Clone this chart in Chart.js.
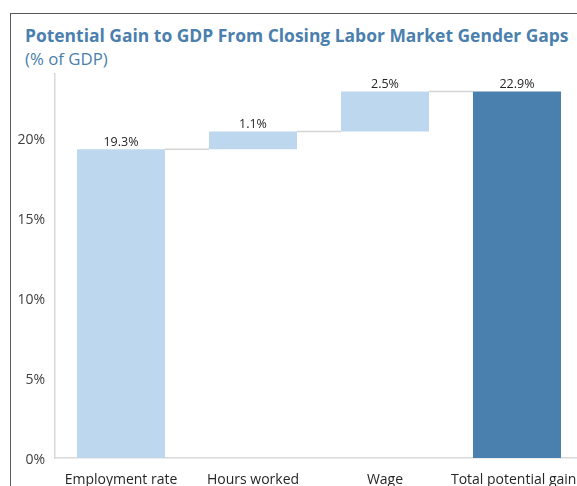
<!DOCTYPE html>
<html>
<head>
<meta charset="utf-8">
<script src="https://cdn.jsdelivr.net/npm/chart.js@4.4.1/dist/chart.umd.min.js"></script>
<style>
  html, body { margin: 0; padding: 0; background: #fff; overflow: hidden; width: 577px; height: 486px; }
  #page { position: relative; width: 577px; height: 486px; overflow: hidden; }
  #frame { position: absolute; left: 10px; top: 13px; width: 600px; height: 520px; border-left: 1.5px solid #595959; border-top: 1.5px solid #595959; }
  #title { position: absolute; left: 25px; top: 23px; font-family: "Open Sans", sans-serif; font-weight: 700; font-size: 17.45px; color: #4a7fae; white-space: nowrap; }
  #subtitle { position: absolute; left: 25px; top: 47px; font-family: "Open Sans", sans-serif; font-size: 16.8px; color: #4a7fae; white-space: nowrap; }
  #wrap { position: absolute; left: 0; top: 0; width: 600px; height: 486px; }
</style>
</head>
<body>
<div id="page">
<div id="frame"></div>
<div id="title">Potential Gain to GDP From Closing Labor Market Gender Gaps</div>
<div id="subtitle">(% of GDP)</div>
<div id="wrap"><canvas id="c" width="600" height="486"></canvas></div>
</div>
<script>
const categories = ['Employment rate', 'Hours worked', 'Wage', 'Total potential gains'];
const values = [19.3, 1.1, 2.5, 22.9];
const isTotal = [false, false, false, true];
const yTicks = [0, 5, 10, 15, 20];

const LIGHT = '#bdd7ee';
const DARK = '#4a80ae';

// floating ranges built from the values
let running = 0;
const ranges = values.map((v, i) => {
  if (isTotal[i]) { running = v; return [0, v]; }
  const r = [running, running + v];
  running += v;
  return r;
});

const connectorPlugin = {
  id: 'connectors',
  afterDatasetsDraw(chart) {
    const ctx = chart.ctx;
    const meta = chart.getDatasetMeta(0);
    const y = chart.scales.y;
    ctx.save();
    ctx.strokeStyle = '#d4d4d4';
    ctx.lineWidth = 1.5;
    for (let i = 0; i < meta.data.length - 1; i++) {
      const a = meta.data[i], b = meta.data[i + 1];
      const level = ranges[i][1];
      const py = y.getPixelForValue(level);
      ctx.beginPath();
      ctx.moveTo(a.x + a.width / 2, py);
      ctx.lineTo(b.x - b.width / 2, py);
      ctx.stroke();
    }
    // value labels
    ctx.fillStyle = '#262626';
    ctx.font = '12.5px "Open Sans", sans-serif';
    ctx.textAlign = 'center';
    ctx.textBaseline = 'bottom';
    meta.data.forEach((bar, i) => {
      const top = y.getPixelForValue(ranges[i][1]);
      ctx.fillText(values[i].toFixed(1) + '%', bar.x, top - 1);
    });
    ctx.restore();
  }
};

new Chart(document.getElementById('c'), {
  type: 'bar',
  data: {
    labels: categories,
    datasets: [{
      data: ranges,
      backgroundColor: isTotal.map(t => t ? DARK : LIGHT),
      borderWidth: 0,
      barPercentage: 0.667,
      categoryPercentage: 1.0
    }]
  },
  options: {
    responsive: false,
    animation: false,
    devicePixelRatio: 1,
    layout: { padding: { left: 0, right: 17, top: 74, bottom: 0 } },
    plugins: { legend: { display: false }, tooltip: { enabled: false } },
    scales: {
      x: {
        grid: { display: false, drawTicks: false },
        border: { display: true, color: '#d9d9d9', width: 1.5 },
        ticks: { color: '#262626', font: { family: '"Open Sans", sans-serif', size: 14 }, padding: 14, maxRotation: 0, autoSkip: false },
        afterFit(s) { s.height = 28; }
      },
      y: {
        min: 0,
        max: 24,
        grid: { display: false, drawTicks: false },
        border: { display: true, color: '#d9d9d9', width: 1.5 },
        afterBuildTicks(s) { s.ticks = yTicks.map(v => ({ value: v })); },
        ticks: {
          color: '#404040',
          font: { family: '"Open Sans", sans-serif', size: 14 },
          padding: 10,
          labelOffset: 2,
          callback: v => v + '%'
        },
        afterFit(s) { s.width = 55; }
      }
    }
  },
  plugins: [connectorPlugin]
});
</script>
</body>
</html>
